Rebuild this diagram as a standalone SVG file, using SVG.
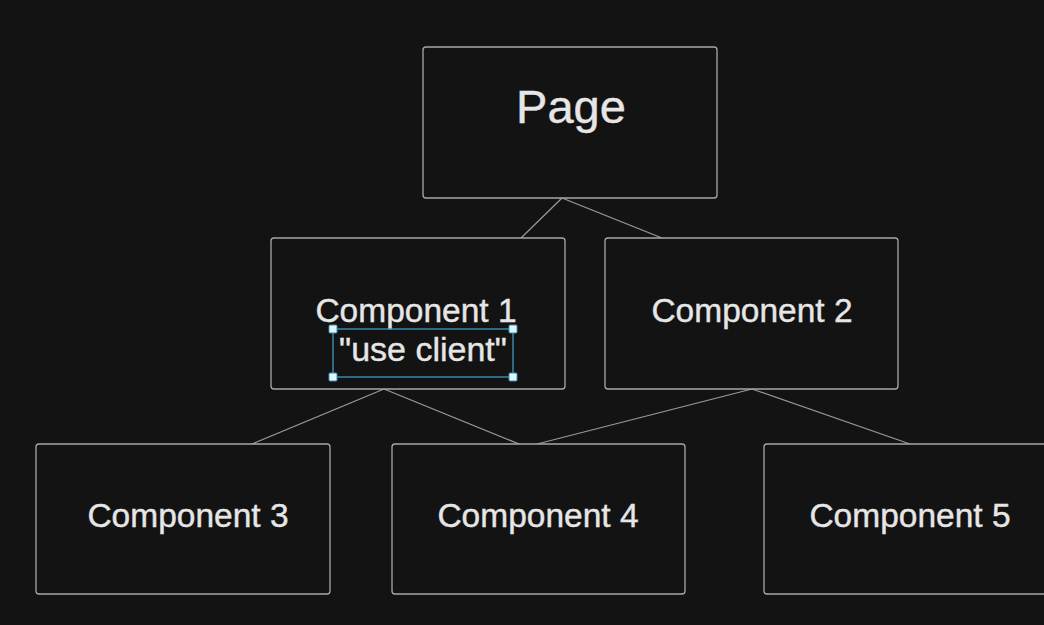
<svg xmlns="http://www.w3.org/2000/svg" width="1044" height="625" viewBox="0 0 1044 625">
  <style>
    .box { fill: #131313; stroke: #a8a8a8; stroke-width: 1.3; }
    .lbl { font-family: "Liberation Sans", Arial, sans-serif; fill: #e6e6e6; stroke: #e6e6e6; stroke-width: 0.4; text-anchor: middle; }
    .edge { stroke: #9a9a9a; stroke-width: 1.2; fill: none; }
    .sel { fill: none; stroke: #3d8fb5; stroke-width: 1.4; }
    .handle { fill: #dff6ff; stroke: #3d8fb5; stroke-width: 1; }
  </style>
  <rect width="1044" height="625" fill="#131313"/>

  <!-- tree edges -->
  <g id="connectors">
    <line class="edge" x1="562" y1="198" x2="521" y2="238"/>
    <line class="edge" x1="562" y1="198" x2="662" y2="238"/>
    <line class="edge" x1="384" y1="389" x2="252" y2="444"/>
    <line class="edge" x1="384" y1="389" x2="519" y2="444"/>
    <line class="edge" x1="752" y1="389" x2="537" y2="444"/>
    <line class="edge" x1="752" y1="389" x2="910" y2="444"/>
  </g>

  <g id="page">
    <rect class="box" x="423" y="47" width="294" height="151" rx="3"/>
    <text class="lbl" x="571" y="123" font-size="47">Page</text>
  </g>

  <g id="component1">
    <rect class="box" x="271" y="238" width="294" height="151" rx="3"/>
    <text class="lbl" x="416" y="322" font-size="33.5">Component 1</text>
    <text class="lbl" x="423" y="361" font-size="34">"use client"</text>
    <rect class="sel" x="333" y="329" width="180" height="48"/>
    <rect class="handle" x="329" y="325" width="8" height="8" rx="1"/>
    <rect class="handle" x="509" y="325" width="8" height="8" rx="1"/>
    <rect class="handle" x="329" y="373" width="8" height="8" rx="1"/>
    <rect class="handle" x="509" y="373" width="8" height="8" rx="1"/>
  </g>

  <g id="component2">
    <rect class="box" x="605" y="238" width="293" height="151" rx="3"/>
    <text class="lbl" x="752" y="322" font-size="33.5">Component 2</text>
  </g>

  <g id="component3">
    <rect class="box" x="36" y="444" width="294" height="150" rx="3"/>
    <text class="lbl" x="188" y="527" font-size="33.5">Component 3</text>
  </g>

  <g id="component4">
    <rect class="box" x="392" y="444" width="293" height="150" rx="3"/>
    <text class="lbl" x="538" y="527" font-size="33.5">Component 4</text>
  </g>

  <g id="component5">
    <rect class="box" x="764" y="444" width="294" height="150" rx="3"/>
    <text class="lbl" x="910" y="527" font-size="33.5">Component 5</text>
  </g>
</svg>
